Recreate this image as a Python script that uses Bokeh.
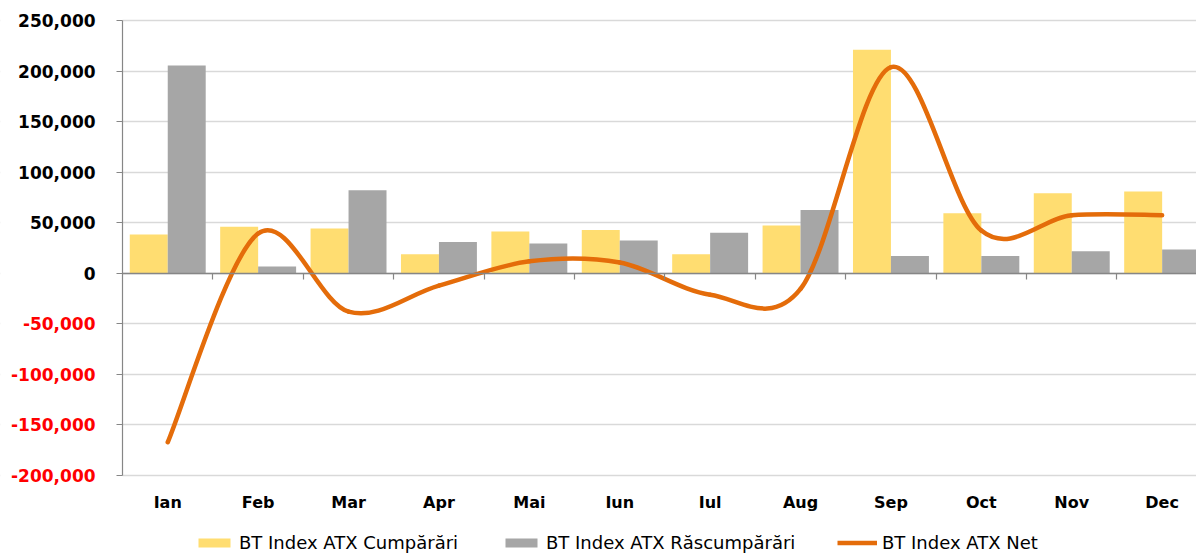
from bokeh.plotting import figure
from bokeh.models import (Range1d, FixedTicker, LinearAxis, Legend, BoxAnnotation,
                          LegendItem, NumeralTickFormatter)
from bokeh.embed import file_html
from bokeh.resources import INLINE

months = ["Ian", "Feb", "Mar", "Apr", "Mai", "Iun", "Iul", "Aug", "Sep", "Oct", "Nov", "Dec"]
cumparari = [38300, 45900, 44200, 18800, 41200, 42900, 18800, 47200, 221000, 59400, 79100, 80800]
rascumparari = [205400, 6600, 82100, 31000, 29400, 32300, 40000, 62700, 17200, 17200, 21800, 23400]
net = [-167100, 39300, -37900, -12200, 11800, 10600, -21200, -15500, 203800, 42200, 57300, 57400]
y_ticks = [-200000, -150000, -100000, -50000, 0, 50000, 100000, 150000, 200000, 250000]

YELLOW = "#FFDD71"
GREY = "#A6A6A6"
ORANGE = "#E46C0A"
AXIS_GREY = "#868686"
FONT = "DejaVu Sans"

n = len(months)
idx = list(range(n))
centers = [i + 0.5 for i in idx]
y_min, y_max = min(y_ticks), max(y_ticks)
X_END = 11.88

# frame covers the whole canvas; the plot area proper is x in [0, X_END], y in [y_min, y_max]
p = figure(width=1196, height=554, output_backend="svg", toolbar_location=None,
           x_range=Range1d(-1.35, X_END), y_range=Range1d(-278130, 269780),
           min_border=0, x_axis_location=None, y_axis_location=None)
p.outline_line_color = None
p.background_fill_color = "white"
p.border_fill_color = "white"

p.xgrid.visible = False
p.ygrid.ticker = FixedTicker(ticks=y_ticks)
p.ygrid.grid_line_color = "#D9D9D9"
p.ygrid.grid_line_width = 1.5
# keep grid lines out of the tick-label area
p.add_layout(BoxAnnotation(right=0, fill_color="white", fill_alpha=1.0,
                           line_color=None, level="underlay"))


def style_y(ax, color):
    ax.axis_line_color = AXIS_GREY
    ax.axis_line_width = 1.2
    ax.major_tick_line_color = AXIS_GREY
    ax.major_tick_line_width = 1.2
    ax.major_tick_out = 6
    ax.major_tick_in = 0
    ax.minor_tick_line_color = None
    ax.major_label_standoff = 21
    ax.major_label_text_font = FONT
    ax.major_label_text_font_style = "bold"
    ax.major_label_text_font_size = "17px"
    ax.major_label_text_color = color


# value axis: non-negative labels in black
yaxis = LinearAxis(ticker=FixedTicker(ticks=y_ticks),
                   formatter=NumeralTickFormatter(format="0,0"),
                   bounds=(y_min, y_max), fixed_location=0)
style_y(yaxis, "#000000")
yaxis.major_label_overrides = {t: "" for t in y_ticks if t < 0}
p.add_layout(yaxis, "left")

# negative labels in red
yaxis_neg = LinearAxis(ticker=FixedTicker(ticks=[t for t in y_ticks if t < 0]),
                       formatter=NumeralTickFormatter(format="0,0"),
                       bounds=(y_min, 0), fixed_location=0)
style_y(yaxis_neg, "#FF0000")
yaxis_neg.axis_line_color = None
yaxis_neg.major_tick_line_color = None
p.add_layout(yaxis_neg, "left")

# month labels under the plot area
xaxis = LinearAxis(ticker=FixedTicker(ticks=centers), fixed_location=y_min,
                   bounds=(0, X_END))
xaxis.major_label_overrides = {c: m for c, m in zip(centers, months)}
xaxis.axis_line_color = None
xaxis.major_tick_line_color = None
xaxis.minor_tick_line_color = None
xaxis.major_tick_out = 0
xaxis.major_label_standoff = 17
xaxis.major_label_text_font = FONT
xaxis.major_label_text_font_style = "bold"
xaxis.major_label_text_font_size = "16px"
xaxis.major_label_text_color = "#000000"
p.add_layout(xaxis, "below")

# bars
bw = 0.42
r_c = p.vbar(x=[i + 0.29 for i in idx], top=cumparari, bottom=0, width=bw,
             fill_color=YELLOW, line_color=None)
r_r = p.vbar(x=[i + 0.71 for i in idx], top=rascumparari, bottom=0, width=bw,
             fill_color=GREY, line_color=None)

# category axis crossing at zero, ticks at category boundaries
zaxis = LinearAxis(ticker=FixedTicker(ticks=list(range(1, n + 1))), fixed_location=0,
                   bounds=(0, X_END))
zaxis.axis_line_color = AXIS_GREY
zaxis.axis_line_width = 1.5
zaxis.major_tick_line_color = AXIS_GREY
zaxis.major_tick_line_width = 1.2
zaxis.major_tick_out = 6
zaxis.major_tick_in = 0
zaxis.minor_tick_line_color = None
zaxis.major_label_text_font_size = "0px"
zaxis.major_label_overrides = {b: "" for b in range(1, n + 1)}
p.add_layout(zaxis, "below")

# smoothed net line (Catmull-Rom as cubic Bezier)
xs = centers
ys = net
x0, y0, x1, y1, cx0, cy0, cx1, cy1 = [], [], [], [], [], [], [], []
for i in range(n - 1):
    xm1, ym1 = (xs[i - 1], ys[i - 1]) if i > 0 else (xs[i], ys[i])
    xp2, yp2 = (xs[i + 2], ys[i + 2]) if i + 2 < n else (xs[i + 1], ys[i + 1])
    x0.append(xs[i]); y0.append(ys[i])
    x1.append(xs[i + 1]); y1.append(ys[i + 1])
    cx0.append(xs[i] + (xs[i + 1] - xm1) / 6); cy0.append(ys[i] + (ys[i + 1] - ym1) / 6)
    cx1.append(xs[i + 1] - (xp2 - xs[i]) / 6); cy1.append(ys[i + 1] - (yp2 - ys[i]) / 6)
p.bezier(x0=x0, y0=y0, x1=x1, y1=y1, cx0=cx0, cy0=cy0, cx1=cx1, cy1=cy1,
         line_color=ORANGE, line_width=4.5, line_cap="round")
r_net = p.line(x=[xs[0]], y=[ys[0]], line_color=ORANGE, line_width=4.5)


# legends (one per item, placed under the month labels)
def add_legend(label, renderer, xloc):
    lg = Legend(items=[LegendItem(label=label, renderers=[renderer])],
                location=(xloc, 1), orientation="horizontal",
                glyph_width=40, glyph_height=11, label_standoff=5,
                padding=0, margin=0, border_line_color=None,
                background_fill_alpha=0, label_text_font=FONT,
                label_text_font_size="18px", label_text_color="#000000",
                label_height=20)
    p.add_layout(lg, "center")


add_legend("BT Index ATX Cumpărări", r_c, 194)
add_legend("BT Index ATX Răscumpărări", r_r, 501)
add_legend("BT Index ATX Net", r_net, 837)

open("out.html", "w").write(file_html(p, INLINE))
